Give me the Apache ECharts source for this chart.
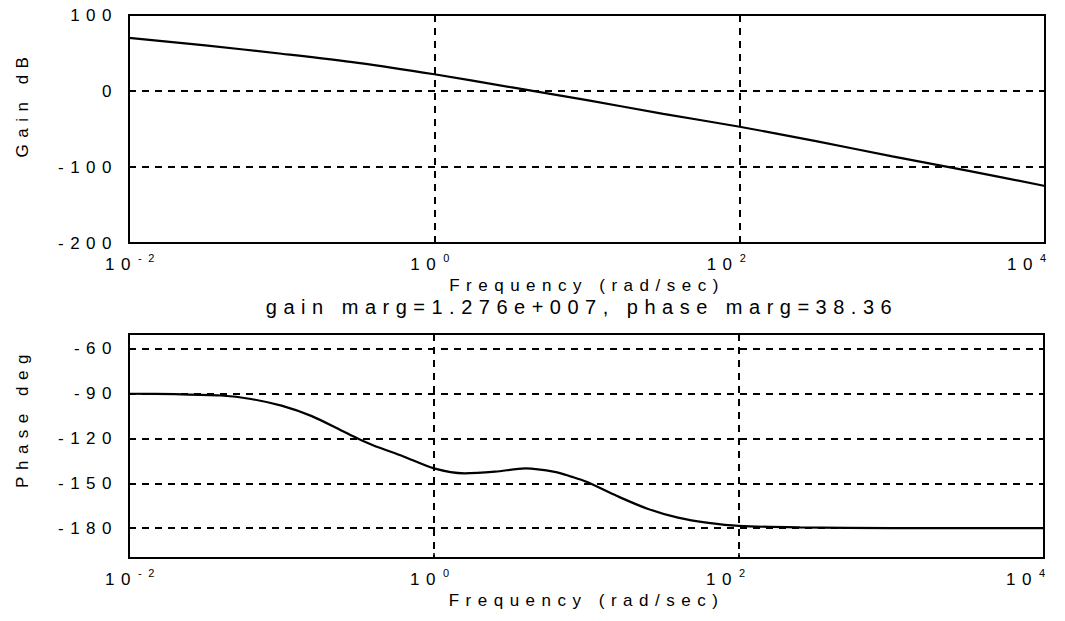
<!DOCTYPE html>
<html><head><meta charset="utf-8">
<script src="https://cdn.jsdelivr.net/npm/echarts@6/dist/echarts.min.js"></script>
<style>
html,body{margin:0;padding:0;background:#fff;}
#chart{width:1065px;height:621px;}
#chart text{letter-spacing:6.5px;}
</style></head><body><div id="chart"></div>
<script>
// ---- data ----
const gainFreq = [0.01, 0.0316, 0.1, 0.316, 1, 3.16, 10, 31.6, 100, 316, 1000, 3162, 10000];
const gainDb   = [70, 60, 49, 37, 22, 5, -12, -30, -47, -66, -86, -105, -125];
const phaseFreq = [0.01, 0.02, 0.04, 0.063, 0.1, 0.158, 0.251, 0.316, 0.398, 0.631, 1, 1.585, 2.512, 3.981, 6.31, 7.94, 10, 15.85, 25.1, 39.8, 63.1, 100, 251, 1000, 10000];
const phaseDeg  = [-90, -90.3, -91.2, -93.5, -98, -105, -115, -120, -124.5, -132, -140, -143.3, -142.2, -140, -142.5, -145.5, -149, -158.5, -167, -173, -176.5, -178.5, -179.5, -180, -180];
const phaseTicks = [-60, -90, -120, -150, -180];
const xTitle = 'Frequency (rad/sec)';
const gainTitle = 'Gain dB';
const phaseTitle = 'Phase deg';
const marginText = 'gain marg=1.276e+007, phase marg=38.36';

const FONT = 'Liberation Sans, Arial, Helvetica, sans-serif';
const BLACK = '#000';
const dash = {color: BLACK, type: [7, 6], width: 2};

// superscript style per exponent (right padding nudges the label left, as in the reference)
const supStyle = e => (e === 4 ? 's4' : e === 2 ? 's2' : 's');
const supBase = {fontSize: 11, fontFamily: FONT, color: BLACK, width: 15, align: 'left', verticalAlign: 'top'};

function xAxisCfg(gi) {
  return {
    type: 'log', logBase: 100, gridIndex: gi, min: 0.01, max: 10000,
    axisLine: {show: true, onZero: false, lineStyle: {color: BLACK, width: 2}},
    axisTick: {show: true, inside: true, length: 5, lineStyle: {color: BLACK, width: 1.5}},
    axisLabel: {
      show: true, margin: 9, showMinLabel: true, showMaxLabel: true,
      formatter: v => {
        const e = Math.round(Math.log10(v));
        return '{b|10}{' + supStyle(e) + '|' + e + '}';
      },
      rich: {
        b: {fontSize: 17, fontFamily: FONT, color: BLACK, width: 33, align: 'left', lineHeight: 17, verticalAlign: 'bottom'},
        s: Object.assign({}, supBase, {padding: [0, 0, 10, 0]}),
        s2: Object.assign({}, supBase, {padding: [0, 18, 10, 0]}),
        s4: Object.assign({}, supBase, {padding: [0, 28, 10, 0]})
      }
    },
    splitLine: {show: true, lineStyle: dash},
    name: xTitle, nameLocation: 'middle', nameGap: 34, nameMoveOverlap: false,
    nameTextStyle: {fontSize: 17, fontFamily: FONT, color: BLACK}
  };
}

const chart = echarts.init(document.getElementById('chart'), null, {renderer: 'svg'});
chart.setOption({
  backgroundColor: '#fff',
  animation: false,
  title: {
    text: marginText, left: 577, top: 292, textAlign: 'center',
    textStyle: {fontSize: 20, fontWeight: 'normal', fontFamily: FONT, color: BLACK}
  },
  grid: [
    {left: 129, top: 15, width: 916, height: 228, outerBoundsMode: 'none', containLabel: false, show: true, borderColor: BLACK, borderWidth: 2, backgroundColor: '#fff'},
    {left: 129, top: 334, width: 915, height: 224, outerBoundsMode: 'none', containLabel: false, show: true, borderColor: BLACK, borderWidth: 2, backgroundColor: '#fff'}
  ],
  xAxis: [xAxisCfg(0), xAxisCfg(1)],
  yAxis: [
    {
      type: 'value', gridIndex: 0, min: -200, max: 100, interval: 100,
      axisLine: {show: true, onZero: false, lineStyle: {color: BLACK, width: 2}},
      axisTick: {show: true, inside: true, length: 5, lineStyle: {color: BLACK, width: 1.5}},
      axisLabel: {margin: 11, fontSize: 17, fontFamily: FONT, color: BLACK},
      splitLine: {show: true, lineStyle: dash},
      name: gainTitle, nameLocation: 'middle', nameGap: 98, nameMoveOverlap: false,
      nameTextStyle: {fontSize: 17, fontFamily: FONT, color: BLACK, padding: [0, 0, 0, 50]}
    },
    {
      type: 'value', gridIndex: 1, min: -200, max: -50,
      axisLine: {show: true, onZero: false, lineStyle: {color: BLACK, width: 2}},
      axisTick: {show: true, inside: true, length: 5, customValues: phaseTicks, lineStyle: {color: BLACK, width: 1.5}},
      axisLabel: {margin: 11, fontSize: 17, fontFamily: FONT, color: BLACK, customValues: phaseTicks},
      splitLine: {show: false},
      name: phaseTitle, nameLocation: 'middle', nameGap: 98, nameMoveOverlap: false,
      nameTextStyle: {fontSize: 17, fontFamily: FONT, color: BLACK, padding: [0, 0, 0, 56]}
    }
  ],
  series: [
    {
      type: 'line', xAxisIndex: 0, yAxisIndex: 0, smooth: 0.3, showSymbol: false,
      lineStyle: {color: BLACK, width: 2.2},
      data: gainFreq.map((f, i) => [f, gainDb[i]])
    },
    {
      type: 'line', xAxisIndex: 1, yAxisIndex: 1, smooth: 0.3, showSymbol: false,
      lineStyle: {color: BLACK, width: 2.2}, z: 3,
      data: phaseFreq.map((f, i) => [f, phaseDeg[i]]),
      markLine: {
        silent: true, symbol: 'none', label: {show: false}, z: 1,
        lineStyle: dash,
        data: phaseTicks.map(v => ({yAxis: v}))
      }
    }
  ]
});
</script></body></html>
